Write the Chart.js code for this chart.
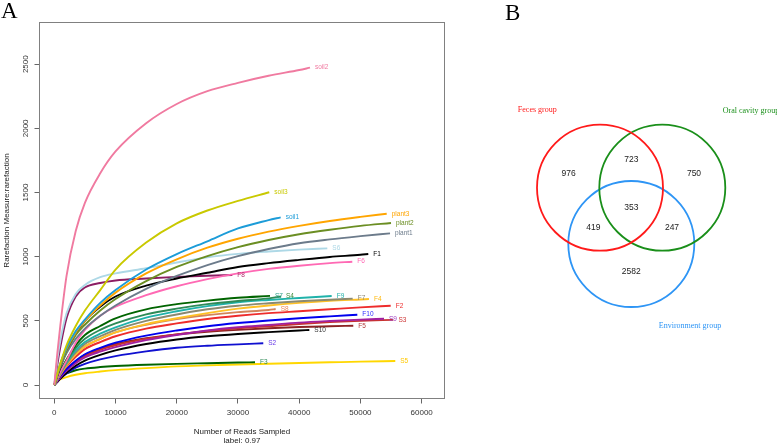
<!DOCTYPE html>
<html>
<head>
<meta charset="utf-8">
<script src="https://cdn.jsdelivr.net/npm/chart.js@4.4.0/dist/chart.umd.min.js"></script>
<style>
  html, body { margin: 0; padding: 0; background: #fff; }
  #wrap { position: relative; width: 777px; height: 444px; overflow: hidden; }
  #chartA { position: absolute; left: 0; top: 0; }
  #chartB { position: absolute; left: 490px; top: 0; }
  .panel { position: absolute; font-family: "Liberation Serif", serif; font-size: 23px; line-height: 1; color: #000; }
</style>
</head>
<body>
<div id="wrap">
  <canvas id="chartA" width="480" height="444"></canvas>
  <canvas id="chartB" width="287" height="444"></canvas>
  <div class="panel" style="left:1px; top:-1px">A</div>
  <div class="panel" style="left:505px; top:1px">B</div>
</div>
<script>
// reads sampled grid, each curve uses the grid up to its own depth then its end point
const depthGrid = [0, 500, 1000, 2000, 3500, 5000, 7500, 10000, 15000, 20000, 25000, 30000, 35000, 40000, 45000, 50000];

const sampleNames = ['soil2', 'soil3', 'soil1', 'plant3', 'plant2', 'plant1', 'S6', 'F1', 'F6', 'F8',
  'S7', 'S4', 'F9', 'F7', 'F4', 'S8', 'F2', 'F10', 'S9', 'S3', 'F5', 'S10', 'S2', 'F3', 'S5'];
const sampleDepth = [41760, 35110, 36970, 54290, 54990, 54830, 44590, 51280, 48670, 29070,
  35230, 37030, 45300, 48730, 51390, 36150, 54940, 49490, 53850, 55380, 48830, 41650, 34130, 32780, 55690];

// observed OTUs (rarefaction) at the grid depths, last value at sampleDepth
const soil2 = [0, 250, 470, 850, 1200, 1420, 1650, 1820, 2040, 2190, 2290, 2355, 2410, 2455, 2473];
const soil3 = [0, 90, 170, 310, 460, 580, 740, 900, 1110, 1260, 1360, 1435, 1502];
const soil1 = [0, 90, 170, 290, 420, 510, 640, 740, 900, 1020, 1120, 1220, 1285, 1307];
const plant3 = [0, 85, 165, 285, 410, 500, 620, 720, 870, 980, 1070, 1140, 1195, 1240, 1278, 1310, 1335];
const plant2 = [0, 80, 155, 270, 390, 470, 580, 670, 810, 920, 1005, 1075, 1130, 1175, 1210, 1240, 1263];
const plant1 = [0, 75, 145, 250, 360, 440, 540, 620, 750, 850, 935, 1005, 1060, 1105, 1135, 1160, 1182];
const S6 = [0, 200, 350, 560, 710, 780, 840, 870, 910, 955, 995, 1022, 1040, 1055, 1065];
const F1 = [0, 70, 140, 260, 400, 500, 610, 690, 775, 830, 875, 920, 950, 975, 998, 1015, 1021];
const F6 = [0, 50, 100, 190, 330, 430, 540, 610, 700, 770, 825, 870, 905, 930, 950, 961];
const F8 = [0, 160, 300, 520, 690, 760, 795, 815, 830, 843, 852, 857];
const S7 = [0, 60, 110, 200, 310, 390, 460, 520, 590, 630, 658, 680, 695];
const S4 = [0, 55, 100, 185, 290, 360, 430, 480, 550, 595, 630, 655, 675, 690];
const F9 = [0, 50, 95, 175, 270, 335, 400, 450, 525, 575, 615, 645, 663, 678, 694];
const F7 = [0, 45, 90, 165, 255, 320, 380, 430, 500, 550, 590, 618, 637, 653, 665, 673];
const F4 = [0, 45, 85, 155, 240, 300, 360, 410, 475, 520, 560, 595, 620, 640, 656, 667, 670];
const S8 = [0, 45, 85, 155, 240, 300, 360, 410, 470, 515, 545, 568, 585, 592];
const F2 = [0, 40, 80, 145, 220, 280, 335, 380, 440, 480, 515, 540, 560, 575, 590, 605, 618];
const F10 = [0, 35, 70, 125, 190, 240, 290, 330, 385, 425, 458, 483, 503, 520, 535, 548];
const S9 = [0, 30, 60, 110, 170, 215, 260, 295, 350, 390, 425, 450, 468, 486, 499, 510, 516];
const S3 = [0, 32, 65, 120, 180, 225, 275, 310, 360, 395, 422, 442, 458, 476, 490, 500, 508];
const F5 = [0, 32, 65, 120, 185, 235, 285, 320, 365, 395, 415, 430, 442, 452, 458, 462];
const S10 = [0, 25, 50, 95, 150, 190, 235, 270, 320, 355, 380, 398, 412, 425, 429];
const S2 = [0, 25, 50, 90, 135, 165, 200, 225, 262, 290, 306, 317, 325];
const F3 = [0, 45, 65, 90, 115, 128, 140, 148, 158, 165, 170, 175, 177];
const S5 = [0, 30, 45, 62, 80, 92, 105, 116, 132, 145, 153, 160, 166, 172, 177, 182, 187];

const curves = [soil2, soil3, soil1, plant3, plant2, plant1, S6, F1, F6, F8,
  S7, S4, F9, F7, F4, S8, F2, F10, S9, S3, F5, S10, S2, F3, S5];

const xTicks = [0, 10000, 20000, 30000, 40000, 50000, 60000];
const yTicks = [0, 500, 1000, 1500, 2000, 2500];

// venn
const vennGroups = ['Feces group', 'Oral cavity group', 'Environment group'];
const vennCounts = [976, 723, 750, 419, 353, 247, 2582];

// styles
const lineColors = ['#f07aa0', '#c9c900', '#1c9cd8', '#ffa500', '#6b8e23', '#6c7b8b', '#add8e6', '#000000', '#ff69b4', '#8b1c62',
  '#006400', '#2e8b57', '#20b2aa', '#8b8970', '#ffc125', '#d2845a', '#ee2c2c', '#0000ee', '#a020a0', '#c83232',
  '#8b2323', '#000000', '#1010d0', '#006400', '#ffd700'];
const labelColors = ['#f07aa0', '#c9c900', '#1c9cd8', '#ffa500', '#6b8e23', '#6c7b8b', '#add8e6', '#000000', '#ff69b4', '#b03070',
  '#2aa08a', '#3c8d3c', '#20b2aa', '#8b8878', '#ffb90f', '#ee8a5a', '#ee2c2c', '#2f2fff', '#a040c0', '#cd3333',
  '#b23a3a', '#333333', '#6a3de8', '#2e8b57', '#ffc800'];
const vennColors = ['#ff1a1a', '#1a8f1a', '#2e95f5'];
const vennCircles = [{ x: 110, y: 187.7, r: 63 }, { x: 172.3, y: 187.7, r: 63 }, { x: 141.3, y: 244, r: 63 }];
const countSpots = [[78.7, 173.7], [141.3, 160], [204, 173.7], [103.3, 227.7], [141.3, 207.7], [182, 227.7], [141.3, 272]];
const groupSpots = [{ x: 47.3, y: 110.3, align: 'center' }, { x: 232.7, y: 111, align: 'left' }, { x: 200, y: 326, align: 'center' }];

Chart.defaults.font.family = '"Liberation Sans", Arial, sans-serif';

function curvePoints(ys, end) {
  const pts = [];
  for (let i = 0; i < ys.length - 1; i++) {
    pts.push({ x: depthGrid[i], y: ys[i] });
  }
  pts.push({ x: end, y: ys[ys.length - 1] });
  return pts;
}

const plotBox = {
  id: 'plotBox',
  afterDraw(chart) {
    const { ctx, chartArea: a } = chart;
    ctx.save();
    ctx.strokeStyle = '#808080';
    ctx.lineWidth = 1;
    ctx.strokeRect(a.left, a.top, a.right - a.left, a.bottom - a.top);
    ctx.restore();
  },
};

const curveLabels = {
  id: 'curveLabels',
  afterDatasetsDraw(chart) {
    const ctx = chart.ctx;
    ctx.save();
    ctx.font = '6.5px "Liberation Sans", Arial, sans-serif';
    ctx.textBaseline = 'middle';
    ctx.textAlign = 'left';
    chart.data.datasets.forEach((ds, i) => {
      const pts = chart.getDatasetMeta(i).data;
      const last = pts[pts.length - 1];
      ctx.fillStyle = labelColors[i];
      ctx.fillText(ds.label, last.x + 5, last.y);
    });
    ctx.restore();
  },
};

new Chart(document.getElementById('chartA'), {
  type: 'line',
  data: {
    datasets: sampleNames.map((name, i) => ({
      label: name,
      data: curvePoints(curves[i], sampleDepth[i]),
      borderColor: lineColors[i],
      borderWidth: 1.9,
      pointRadius: 0,
      fill: false,
      cubicInterpolationMode: 'monotone',
    })),
  },
  options: {
    responsive: false,
    animation: false,
    devicePixelRatio: 1,
    layout: { padding: { top: 22.5, right: 35.5, left: 0, bottom: 0 } },
    plugins: { legend: { display: false }, tooltip: { enabled: false } },
    scales: {
      x: {
        type: 'linear',
        min: -2417,
        max: 63727,
        afterBuildTicks: axis => { axis.ticks = xTicks.map(v => ({ value: v })); },
        afterFit: axis => { axis.height = 45.5; },
        grid: { drawOnChartArea: false, drawTicks: true, tickLength: 5, color: '#666' },
        border: { display: false },
        ticks: { font: { size: 8 }, color: '#333', padding: 4, maxRotation: 0, autoSkip: false, callback: v => String(v) },
        title: {
          display: true,
          text: ['Number of Reads Sampled', 'label: 0.97'],
          font: { size: 8, lineHeight: 1.16 },
          color: '#222',
          padding: { top: 0, bottom: -1.6 },
        },
      },
      y: {
        type: 'linear',
        min: -105,
        max: 2825,
        afterBuildTicks: axis => { axis.ticks = yTicks.map(v => ({ value: v })); },
        afterFit: axis => { axis.width = 39.5; },
        grid: { drawOnChartArea: false, drawTicks: true, tickLength: 5, color: '#666' },
        border: { display: false },
        ticks: { font: { size: 8 }, color: '#333', padding: 0, minRotation: 90, maxRotation: 90, crossAlign: 'center', autoSkip: false, callback: v => String(v) },
        title: {
          display: true,
          text: 'Rarefaction Measure:rarefaction',
          font: { size: 8, lineHeight: 1.16 },
          color: '#222',
          padding: { top: 2.5, bottom: 0 },
        },
      },
    },
  },
  plugins: [plotBox, curveLabels],
});

const vennText = {
  id: 'vennText',
  afterDatasetsDraw(chart) {
    const { ctx, scales } = chart;
    ctx.save();
    ctx.textBaseline = 'middle';
    ctx.textAlign = 'center';
    ctx.font = '8.5px "Liberation Sans", Arial, sans-serif';
    ctx.fillStyle = '#222';
    vennCounts.forEach((n, i) => {
      const [x, y] = countSpots[i];
      ctx.fillText(String(n), scales.x.getPixelForValue(x), scales.y.getPixelForValue(y));
    });
    ctx.font = '8px "Liberation Serif", "Times New Roman", serif';
    vennGroups.forEach((g, i) => {
      const s = groupSpots[i];
      ctx.fillStyle = vennColors[i];
      ctx.textAlign = s.align;
      ctx.fillText(g, scales.x.getPixelForValue(s.x), scales.y.getPixelForValue(s.y));
    });
    ctx.restore();
  },
};

new Chart(document.getElementById('chartB'), {
  type: 'bubble',
  data: {
    datasets: vennGroups.map((g, i) => ({
      label: g,
      data: [{ x: vennCircles[i].x, y: vennCircles[i].y, r: vennCircles[i].r }],
      borderColor: vennColors[i],
      backgroundColor: 'rgba(0,0,0,0)',
      borderWidth: 1.8,
      hoverBorderWidth: 1.8,
      clip: false,
    })),
  },
  options: {
    responsive: false,
    animation: false,
    devicePixelRatio: 1,
    events: [],
    layout: { padding: 0, autoPadding: false },
    plugins: { legend: { display: false }, tooltip: { enabled: false } },
    scales: {
      x: { display: false, min: 0, max: 287 },
      y: { display: false, min: 0, max: 444, reverse: true },
    },
  },
  plugins: [vennText],
});
</script>
</body>
</html>
